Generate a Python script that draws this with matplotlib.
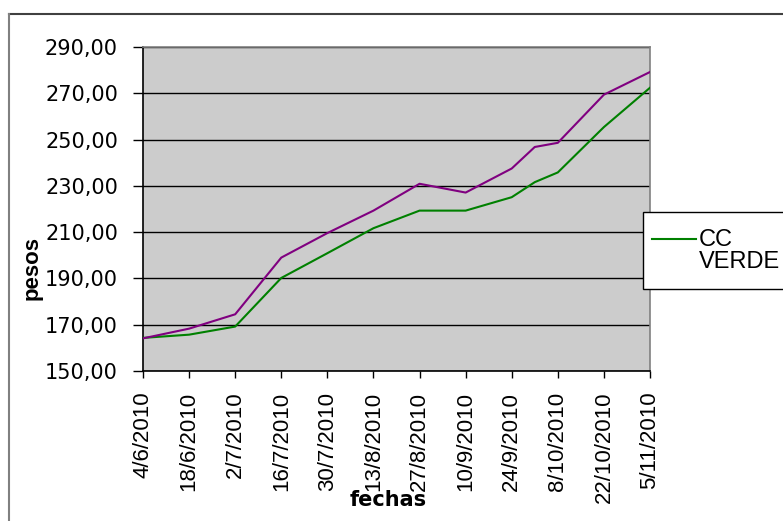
import pandas as pd
import matplotlib
matplotlib.use("Agg")
import matplotlib.pyplot as plt
from matplotlib.lines import Line2D
from matplotlib.patches import Rectangle
from matplotlib.ticker import FuncFormatter

# sample dates (day/month/year) and weights
fechas = ["4/6/2010", "18/6/2010", "2/7/2010", "16/7/2010", "30/7/2010",
          "13/8/2010", "27/8/2010", "10/9/2010", "24/9/2010", "1/10/2010",
          "8/10/2010", "22/10/2010", "5/11/2010"]
cc_verde = [164.3, 165.7, 169.2, 190.2, 200.9, 211.7, 219.3, 219.3,
            225.1, 231.6, 235.8, 255.4, 272.4]
serie_2 = [164.1, 168.3, 174.5, 199.0, 209.6, 219.3, 230.9, 227.1,
           237.5, 246.8, 248.6, 269.4, 279.2]
tick_fechas = ["4/6/2010", "18/6/2010", "2/7/2010", "16/7/2010", "30/7/2010",
               "13/8/2010", "27/8/2010", "10/9/2010", "24/9/2010",
               "8/10/2010", "22/10/2010", "5/11/2010"]
y_ticks = [150, 170, 190, 210, 230, 250, 270, 290]

GREEN = "#008000"
PURPLE = "#800080"

plt.rcParams["font.family"] = ["Liberation Sans", "DejaVu Sans"]
WIDE = "DejaVu Sans"  # horizontal text in the reference is drawn wider

x = pd.to_datetime(fechas, format="%d/%m/%Y")
xt = pd.to_datetime(tick_fechas, format="%d/%m/%Y")

fig = plt.figure(figsize=(7.83, 5.21), dpi=100)
W, H = 783, 521
ax = fig.add_axes([143 / W, 1 - 371 / H, 507 / W, 324 / H])
ax.set_facecolor("#CCCCCC")

ax.plot(x, cc_verde, color=GREEN, lw=1.5, zorder=3)
ax.plot(x, serie_2, color=PURPLE, lw=1.5, zorder=4)

ax.set_xlim(xt[0], xt[-1])
ax.set_ylim(150, 290)
ax.set_yticks(y_ticks)
ax.yaxis.set_major_formatter(FuncFormatter(lambda v, p: f"{v:.2f}".replace(".", ",")))
ax.set_xticks(xt)
ax.set_xticklabels(tick_fechas, rotation=90)
ax.grid(axis="y", color="black", lw=1.0, zorder=1)
ax.set_axisbelow(True)

ax.tick_params(axis="y", length=7, width=1, pad=11, labelsize=15, direction="out")
ax.tick_params(axis="x", length=5, width=1, pad=10, labelsize=16, direction="out")
for lab in ax.get_yticklabels():
    lab.set_family(WIDE)

for s in ["top", "right"]:
    ax.spines[s].set_color("#808080")
    ax.spines[s].set_linewidth(1.2)
for s in ["left", "bottom"]:
    ax.spines[s].set_color("black")
    ax.spines[s].set_linewidth(1.2)

ax.set_ylabel("pesos", fontsize=16, fontweight="bold")
ax.yaxis.set_label_coords(-0.199, 0.318)
ax.set_xlabel("fechas", fontsize=15, fontweight="bold", family=WIDE)
ax.xaxis.set_label_coords(0.483, -0.367)

# outer chart border (cut off at right and bottom)
fig.add_artist(Line2D([9 / W, 1], [1 - 14 / H, 1 - 14 / H], transform=fig.transFigure,
                      color="#404040", lw=1.5))
fig.add_artist(Line2D([9 / W, 9 / W], [0, 1 - 14 / H], transform=fig.transFigure,
                      color="#808080", lw=1.5))

# legend box, partly outside the picture
fig.add_artist(Rectangle((643 / W, 1 - 289 / H), 160 / W, 77 / H, transform=fig.transFigure,
                         facecolor="white", edgecolor="black", lw=1.0, zorder=5))
fig.add_artist(Line2D([652 / W, 696 / W], [1 - 239 / H, 1 - 239 / H], transform=fig.transFigure,
                      color=GREEN, lw=1.5, zorder=6))
fig.text(699 / W, 1 - 250.5 / H, "CC\nVERDE", fontsize=17, ha="left", va="center",
         linespacing=1.0, zorder=6)

fig.savefig("out.png", dpi=100)
